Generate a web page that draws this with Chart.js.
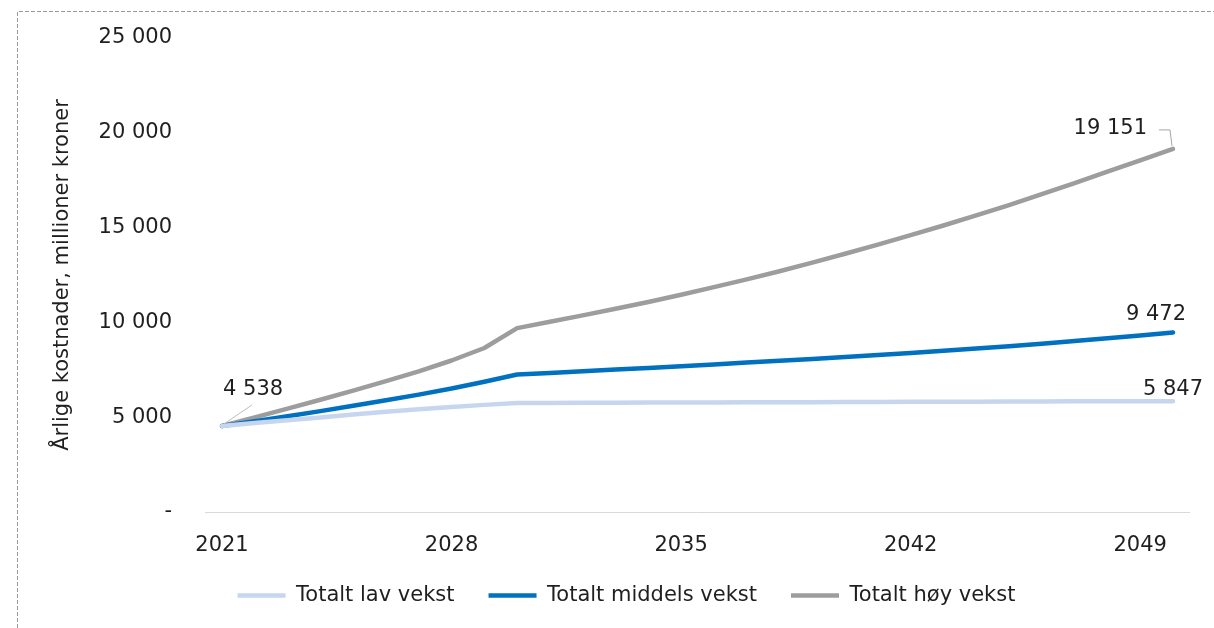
<!DOCTYPE html>
<html>
<head>
<meta charset="utf-8">
<script src="https://cdn.jsdelivr.net/npm/chart.js@4/dist/chart.umd.min.js"></script>
<style>
  html, body { margin: 0; padding: 0; background: #fff; }
  #wrap { position: absolute; left: 0; top: 0; width: 1214px; height: 628px; }
</style>
</head>
<body>
<div id="wrap"><canvas id="c" width="1214" height="628"></canvas></div>
<script>
const years = ['2021','2022','2023','2024','2025','2026','2027','2028','2029','2030',
  '2031','2032','2033','2034','2035','2036','2037','2038','2039','2040',
  '2041','2042','2043','2044','2045','2046','2047','2048','2049','2050'];

const lavVekst = [4538, 4690, 4840, 4990, 5140, 5290, 5420, 5540, 5650, 5745,
  5755, 5760, 5765, 5770, 5775, 5780, 5785, 5790, 5795, 5800,
  5805, 5810, 5815, 5820, 5825, 5830, 5835, 5840, 5843, 5847];

const middelsVekst = [4538, 4790, 5050, 5320, 5600, 5890, 6190, 6510, 6870, 7250,
  7335, 7420, 7510, 7600, 7690, 7785, 7880, 7975, 8075, 8175,
  8280, 8390, 8505, 8620, 8745, 8870, 9015, 9160, 9315, 9472];

const hoyVekst = [4538, 4990, 5450, 5920, 6400, 6900, 7420, 7990, 8650, 9700,
  10030, 10370, 10720, 11080, 11460, 11860, 12270, 12700, 13150, 13620,
  14100, 14600, 15110, 15640, 16190, 16760, 17350, 17950, 18550, 19151];

const seriesNames = ['Totalt lav vekst', 'Totalt middels vekst', 'Totalt høy vekst'];
const yTicks = [0, 5000, 10000, 15000, 20000, 25000];
const yTitle = 'Årlige kostnader, millioner kroner';

const FONT = 'DejaVu Sans';
const TXT = '#1f1f1f';

function fmt(v) {
  if (v === 0) return '-';
  return String(Math.round(v)).replace(/\B(?=(\d{3})+(?!\d))/g, ' ');
}

const borderPlugin = {
  id: 'dashedBorder',
  beforeDraw(chart) {
    const ctx = chart.ctx;
    ctx.save();
    ctx.strokeStyle = '#9a9a9a';
    ctx.lineWidth = 1;
    ctx.setLineDash([4, 2]);
    ctx.beginPath();
    ctx.moveTo(17.5, 628);
    ctx.lineTo(17.5, 11.5);
    ctx.lineTo(1214, 11.5);
    ctx.stroke();
    ctx.restore();
  }
};

const labelPlugin = {
  id: 'valueLabels',
  afterDatasetsDraw(chart) {
    const ctx = chart.ctx;
    const low = chart.getDatasetMeta(0).data;
    const mid = chart.getDatasetMeta(1).data;
    const high = chart.getDatasetMeta(2).data;
    const last = high.length - 1;
    ctx.save();
    ctx.font = '21px "' + FONT + '"';
    ctx.fillStyle = TXT;
    ctx.textBaseline = 'middle';

    // first value
    const p0 = high[0];
    ctx.strokeStyle = '#bdbdbd';
    ctx.lineWidth = 1;
    ctx.beginPath();
    ctx.moveTo(p0.x + 2, p0.y - 2);
    ctx.lineTo(p0.x + 30, p0.y - 21);
    ctx.stroke();
    ctx.textAlign = 'left';
    ctx.fillText(fmt(hoyVekst[0]), p0.x + 1, p0.y - 36);

    // high last
    const ph = high[last];
    ctx.strokeStyle = '#a6a6a6';
    ctx.beginPath();
    ctx.moveTo(ph.x - 14, ph.y - 19);
    ctx.lineTo(ph.x - 3, ph.y - 19);
    ctx.lineTo(ph.x - 1, ph.y - 3);
    ctx.stroke();
    ctx.textAlign = 'right';
    ctx.fillText(fmt(hoyVekst[last]), ph.x - 26, ph.y - 20);

    // mid last
    const pm = mid[last];
    ctx.textAlign = 'center';
    ctx.fillText(fmt(middelsVekst[last]), pm.x - 17, pm.y - 18);

    // low last
    const pl = low[last];
    ctx.fillText(fmt(lavVekst[last]), pl.x, pl.y - 12);
    ctx.restore();
  }
};

const LEFT_PAD = 63.6;
const AREA_LEFT = 205.6;

new Chart(document.getElementById('c'), {
  type: 'line',
  data: {
    labels: years,
    datasets: [
      { label: seriesNames[0], data: lavVekst, borderColor: '#c7d6ef', backgroundColor: '#c7d6ef' },
      { label: seriesNames[1], data: middelsVekst, borderColor: '#0070c0', backgroundColor: '#0070c0' },
      { label: seriesNames[2], data: hoyVekst, borderColor: '#9d9d9d', backgroundColor: '#9d9d9d' }
    ]
  },
  options: {
    responsive: false,
    animation: false,
    devicePixelRatio: 1,
    layout: { padding: { left: LEFT_PAD, right: 24.6, top: 38, bottom: 12 } },
    elements: {
      line: { borderWidth: 4.5, tension: 0, borderCapStyle: 'round', borderJoinStyle: 'round' },
      point: { radius: 0, hoverRadius: 0 }
    },
    plugins: {
      tooltip: { enabled: false },
      legend: {
        position: 'bottom',
        labels: {
          usePointStyle: true,
          pointStyle: 'line',
          pointStyleWidth: 48,
          padding: 14,
          color: TXT,
          font: { family: FONT, size: 21 },
          generateLabels(chart) {
            const items = Chart.defaults.plugins.legend.labels.generateLabels(chart);
            return items.map((it, i) => Object.assign(it, {
              text: i < items.length - 1 ? it.text + '   ' : it.text,
              lineWidth: 4.5,
              pointStyle: 'line'
            }));
          }
        }
      }
    },
    scales: {
      x: {
        type: 'category',
        offset: true,
        grid: { display: false, drawTicks: false },
        border: { display: true, color: '#d9d9d9', width: 1 },
        ticks: {
          autoSkip: false,
          maxRotation: 0,
          minRotation: 0,
          padding: 21,
          color: TXT,
          font: { family: FONT, size: 21 },
          callback(value, index) { return index % 7 === 0 ? years[index] : ''; }
        },
        afterFit(scale) { scale.height = 59; }
      },
      y: {
        min: 0,
        max: 25000,
        grid: { display: false, drawTicks: true, tickLength: 33.6 },
        border: { display: false },
        afterBuildTicks(scale) { scale.ticks = yTicks.map(v => ({ value: v })); },
        ticks: {
          padding: 0,
          color: TXT,
          font: { family: FONT, size: 21 },
          callback(value) { return fmt(value); }
        },
        title: {
          display: true,
          text: yTitle,
          color: TXT,
          font: { family: FONT, size: 21 },
          padding: { top: -14, bottom: 0 }
        },
        afterFit(scale) { scale.width = AREA_LEFT - LEFT_PAD; }
      }
    }
  },
  plugins: [borderPlugin, labelPlugin]
});
</script>
</body>
</html>
